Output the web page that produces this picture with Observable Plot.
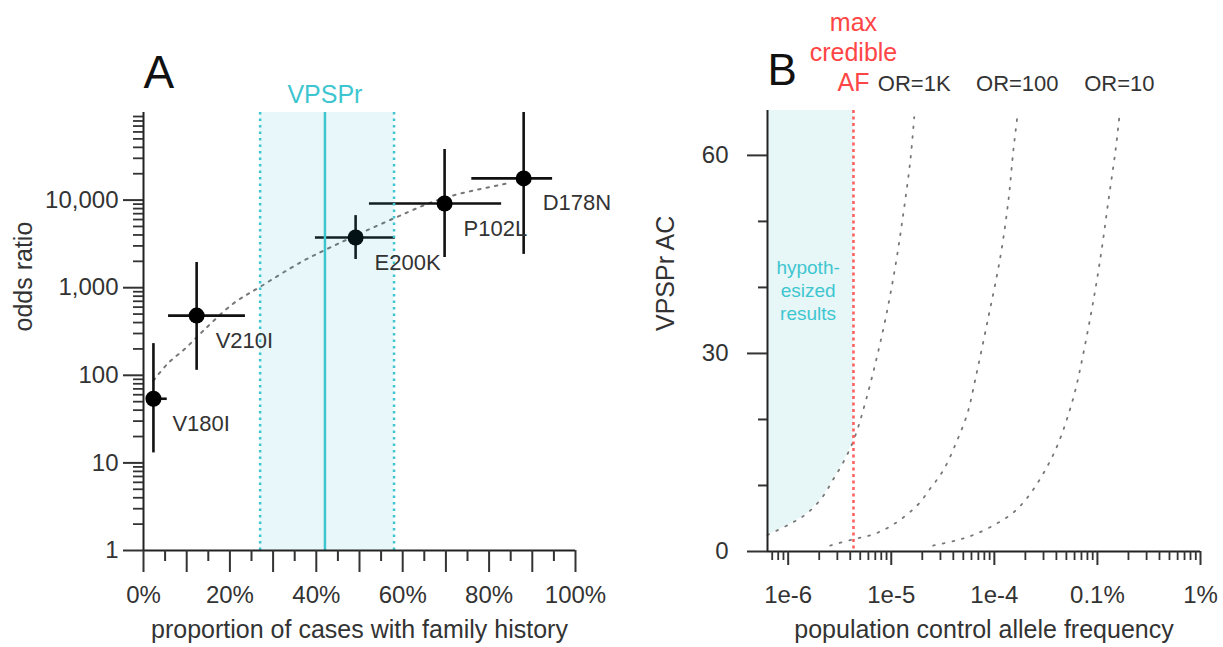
<!DOCTYPE html>
<html>
<head>
<meta charset="utf-8">
<script src="https://cdn.jsdelivr.net/npm/d3@7"></script>
<script src="https://cdn.jsdelivr.net/npm/@observablehq/plot@0.6"></script>
<style>
  html, body { margin: 0; padding: 0; background: white; }
  #wrap { display: flex; width: 1223px; height: 647px; }
</style>
</head>
<body>
<div id="wrap"><div id="a"></div><div id="b"></div></div>
<script>
// ---------------- Panel A data ----------------
const variants   = ["V180I", "V210I", "E200K", "P102L", "D178N"];
const famHist    = [0.023, 0.123, 0.491, 0.697, 0.880];
const famLo      = [0.008, 0.058, 0.398, 0.523, 0.760];
const famHi      = [0.055, 0.236, 0.583, 0.829, 0.947];
const oddsRatio  = [54, 480, 3740, 9150, 17700];
const oddsLo     = [13, 114, 2100, 2210, 2400];
const oddsHi     = [230, 1940, 6650, 37800, 100000];

const trendFam   = [0.023, 0.056, 0.097, 0.139, 0.208, 0.271, 0.363, 0.417, 0.579, 0.694, 0.843];
const trendOR    = [87, 136, 203, 325, 660, 1030, 1940, 2650, 6170, 10500, 15500];

const vpsprMid = 0.42, vpsprLo = 0.27, vpsprHi = 0.58;

const aYMajor = [1, 10, 100, 1000, 10000];
const aXLabeled = [0, 0.2, 0.4, 0.6, 0.8, 1.0];
const aXMajorUnlabeled = [0.1, 0.3, 0.5, 0.7, 0.9];
const aXMinor = [0.05, 0.15, 0.25, 0.35, 0.45, 0.55, 0.65, 0.75, 0.85, 0.95];

// ---------------- Panel B data ----------------
const orLabels = ["OR=1K", "OR=100", "OR=10"];
const af1K  = [6.3e-7, 1.05e-6, 1.53e-6, 2.14e-6, 2.73e-6, 3.42e-6, 4.3e-6, 5.7e-6, 8.4e-6, 1.09e-5, 1.31e-5, 1.53e-5, 1.67e-5];
const ac1K  = [2.5, 4.2, 5.8, 8.2, 10.9, 13.5, 16.8, 23, 33.8, 43, 51.2, 59.2, 65.8];
const af100 = [2.56e-6, 4.17e-6, 6.7e-6, 1.05e-5, 1.79e-5, 2.38e-5, 3.2e-5, 4.27e-5, 5.5e-5, 6.5e-5, 8.7e-5, 1.14e-4, 1.37e-4, 1.53e-4, 1.67e-4];
const ac100 = [0.9, 1.8, 2.6, 4.1, 7.0, 9.5, 12.3, 16.5, 21, 25.9, 35.3, 44.5, 53.2, 60.8, 65.8];
const af10  = [2.55e-5, 4.3e-5, 6.5e-5, 1.02e-4, 1.53e-4, 2.1e-4, 2.78e-4, 3.5e-4, 4.2e-4, 5.0e-4, 6.1e-4, 8.5e-4, 1.07e-3, 1.28e-3, 1.5e-3, 1.63e-3];
const ac10  = [0.9, 1.7, 2.6, 4.1, 5.9, 8.2, 11, 13.8, 16.5, 19.8, 24.4, 35.3, 44.5, 53.2, 60.8, 65.8];
const maxCredibleAF = 4.3e-6;

const bXDomain = [6.3e-7, 1e-2];
const bYDomain = [0, 66.8];
const bXMajor = [1e-6, 1e-5, 1e-4, 1e-3, 1e-2];
const bXMajorLabels = ["1e-6", "1e-5", "1e-4", "0.1%", "1%"];
const bYMajor = [0, 30, 60];
const bYMinor = [10, 20, 40, 50];

// ---------------- styles ----------------
const FONT = "'Liberation Sans', Arial, Helvetica, sans-serif";
const CYAN = "#3ec6d0";
const RED = "#ff4545";
const INK = "#333";

// ---------------- Panel A ----------------
const pts = variants.map((v, i) => ({
  name: v, fam: famHist[i], lo: famLo[i], hi: famHi[i],
  or: oddsRatio[i], orLo: oddsLo[i], orHi: oddsHi[i]
}));
const trend = trendFam.map((f, i) => ({fam: f, or: trendOR[i]}));
const aYMinor = [];
for (let k = 0; k < 5; k++) for (let m = 2; m <= 9; m++) aYMinor.push(m * 10 ** k);

const plotA = Plot.plot({
  width: 611, height: 647,
  marginLeft: 143, marginRight: 36, marginTop: 112, marginBottom: 97,
  style: {fontFamily: FONT, fontSize: "24px", color: INK, background: "white", overflow: "visible"},
  x: {domain: [0, 1], axis: null},
  y: {type: "log", domain: [1, 1e5], axis: null},
  marks: [
    Plot.line(trend, {x: "fam", y: "or", curve: "catmull-rom", stroke: "#777", strokeWidth: 2, strokeDasharray: "2.5,6"}),
    Plot.ruleX(pts, {x: "fam", y1: "orLo", y2: "orHi", stroke: "#111", strokeWidth: 2.6}),
    Plot.ruleY(pts, {y: "or", x1: "lo", x2: "hi", stroke: "#111", strokeWidth: 2.6}),
    Plot.dot(pts, {x: "fam", y: "or", r: 8, fill: "#000", stroke: "none"}),
    Plot.rectX([0], {x1: vpsprLo, x2: vpsprHi, y1: 1, y2: 1e5, fill: "#22bfcc", fillOpacity: 0.1}),
    Plot.ruleX([vpsprLo, vpsprHi], {stroke: CYAN, strokeWidth: 2.5, strokeDasharray: "2.5,4"}),
    Plot.ruleX([vpsprMid], {stroke: CYAN, strokeWidth: 2.5}),
    Plot.text(pts, {x: "fam", y: "or", text: "name", dx: 19, dy: 25, textAnchor: "start", fontSize: 22, fill: INK}),
    // axes
    Plot.ruleY([1], {stroke: "#222", strokeWidth: 2}),
    Plot.ruleX([0], {stroke: "#222", strokeWidth: 2}),
    Plot.axisY({ticks: aYMajor, tickSize: 20, tickPadding: 5, tickFormat: d3.format(","), fontSize: 24, strokeWidth: 2, label: null}),
    Plot.axisY({ticks: aYMinor, tickSize: 10, tickFormat: () => "", strokeWidth: 1.8, label: null}),
    Plot.axisX({ticks: aXLabeled, tickSize: 22, tickPadding: 13, tickFormat: d3.format(".0%"), fontSize: 24, strokeWidth: 2, label: null}),
    Plot.axisX({ticks: aXMajorUnlabeled, tickSize: 22, tickFormat: () => "", strokeWidth: 2, label: null}),
    Plot.axisX({ticks: aXMinor, tickSize: 11, tickFormat: () => "", strokeWidth: 2, label: null}),
    Plot.text(["proportion of cases with family history"], {frameAnchor: "bottom", lineAnchor: "bottom", dy: 87, fontSize: 25, fill: INK, text: d => d}),
    Plot.text(["odds ratio"], {frameAnchor: "left", rotate: -90, dx: -120, fontSize: 25, fill: INK, text: d => d}),
    Plot.text(["VPSPr"], {x: [vpsprMid], frameAnchor: "top", lineAnchor: "bottom", dy: -10, fontSize: 25, fill: CYAN, text: d => d}),
    Plot.text(["A"], {frameAnchor: "top-left", textAnchor: "start", lineAnchor: "bottom", dy: -25, fontSize: 46, fill: "#111", text: d => d})
  ]
});
document.getElementById("a").append(plotA);

// ---------------- Panel B ----------------
const mk = (af, ac, label) => ({label, pts: af.map((a, i) => ({af: a, ac: ac[i]}))});
const curves = [mk(af1K, ac1K, orLabels[0]), mk(af100, ac100, orLabels[1]), mk(af10, ac10, orLabels[2])];
const curvePts = curves.flatMap(c => c.pts.map(p => ({...p, label: c.label})));
const shade = curves[0].pts.filter(p => p.af <= maxCredibleAF);
const bXMinor = [];
for (let e = -7; e <= -3; e++) for (let m = 2; m <= 9; m++) {
  const v = m * 10 ** e;
  if (v >= bXDomain[0] && v <= bXDomain[1]) bXMinor.push(v);
}
const topLabels = curves.map(c => ({label: c.label, af: c.pts[c.pts.length - 1].af}));
const bXLabelOf = d => {
  const i = bXMajor.findIndex(t => Math.abs(Math.log10(t) - Math.log10(d)) < 1e-6);
  return i >= 0 ? bXMajorLabels[i] : "";
};

const plotB = Plot.plot({
  width: 612, height: 647,
  marginLeft: 156, marginRight: 23, marginTop: 110, marginBottom: 96,
  style: {fontFamily: FONT, fontSize: "24px", color: INK, background: "white", overflow: "visible"},
  x: {type: "log", domain: bXDomain, axis: null},
  y: {domain: bYDomain, axis: null},
  marks: [
    Plot.areaY(shade, {x: "af", y1: "ac", y2: bYDomain[1], curve: "catmull-rom", fill: "#e7f6f7"}),
    Plot.line(curvePts, {x: "af", y: "ac", z: "label", curve: "catmull-rom", stroke: "#777", strokeWidth: 1.8, strokeDasharray: "1.8,8"}),
    Plot.ruleX([maxCredibleAF], {stroke: RED, strokeWidth: 2.6, strokeDasharray: "3,3.5", strokeOpacity: 0.85}),
    Plot.text(["hypoth-\nesized\nresults"], {x: [1.56e-6], y: [39.7], lineHeight: 1.2, fontSize: 19, fill: CYAN, text: d => d}),
    // axes
    Plot.ruleY([0], {stroke: "#222", strokeWidth: 2}),
    Plot.ruleX([bXDomain[0]], {stroke: "#222", strokeWidth: 2}),
    Plot.axisY({ticks: bYMajor, tickSize: 20, tickPadding: 19, fontSize: 24, strokeWidth: 2, label: null}),
    Plot.axisY({ticks: bYMinor, tickSize: 9, tickFormat: () => "", strokeWidth: 2, label: null}),
    Plot.axisX({ticks: bXMajor, tickSize: 14, tickPadding: 20, tickFormat: bXLabelOf, fontSize: 24, strokeWidth: 2, label: null}),
    Plot.axisX({ticks: bXMinor, tickSize: 9, tickFormat: () => "", strokeWidth: 1.8, label: null}),
    Plot.text(["population control allele frequency"], {frameAnchor: "bottom", lineAnchor: "bottom", dy: 86, fontSize: 25, fill: INK, text: d => d}),
    Plot.text(["VPSPr AC"], {frameAnchor: "left", rotate: -90, dx: -102, fontSize: 25, fill: INK, text: d => d}),
    Plot.text(["max\ncredible\nAF"], {x: [maxCredibleAF], frameAnchor: "top", lineAnchor: "bottom", dy: -20, lineHeight: 1.2, fontSize: 25, fill: RED, text: d => d}),
    Plot.text(topLabels, {x: "af", frameAnchor: "top", lineAnchor: "bottom", dy: -20, fontSize: 22, fill: INK, text: "label"}),
    Plot.text(["B"], {frameAnchor: "top-left", textAnchor: "start", lineAnchor: "bottom", dy: -26, fontSize: 44, fill: "#111", text: d => d})
  ]
});
document.getElementById("b").append(plotB);
</script>
</body>
</html>
